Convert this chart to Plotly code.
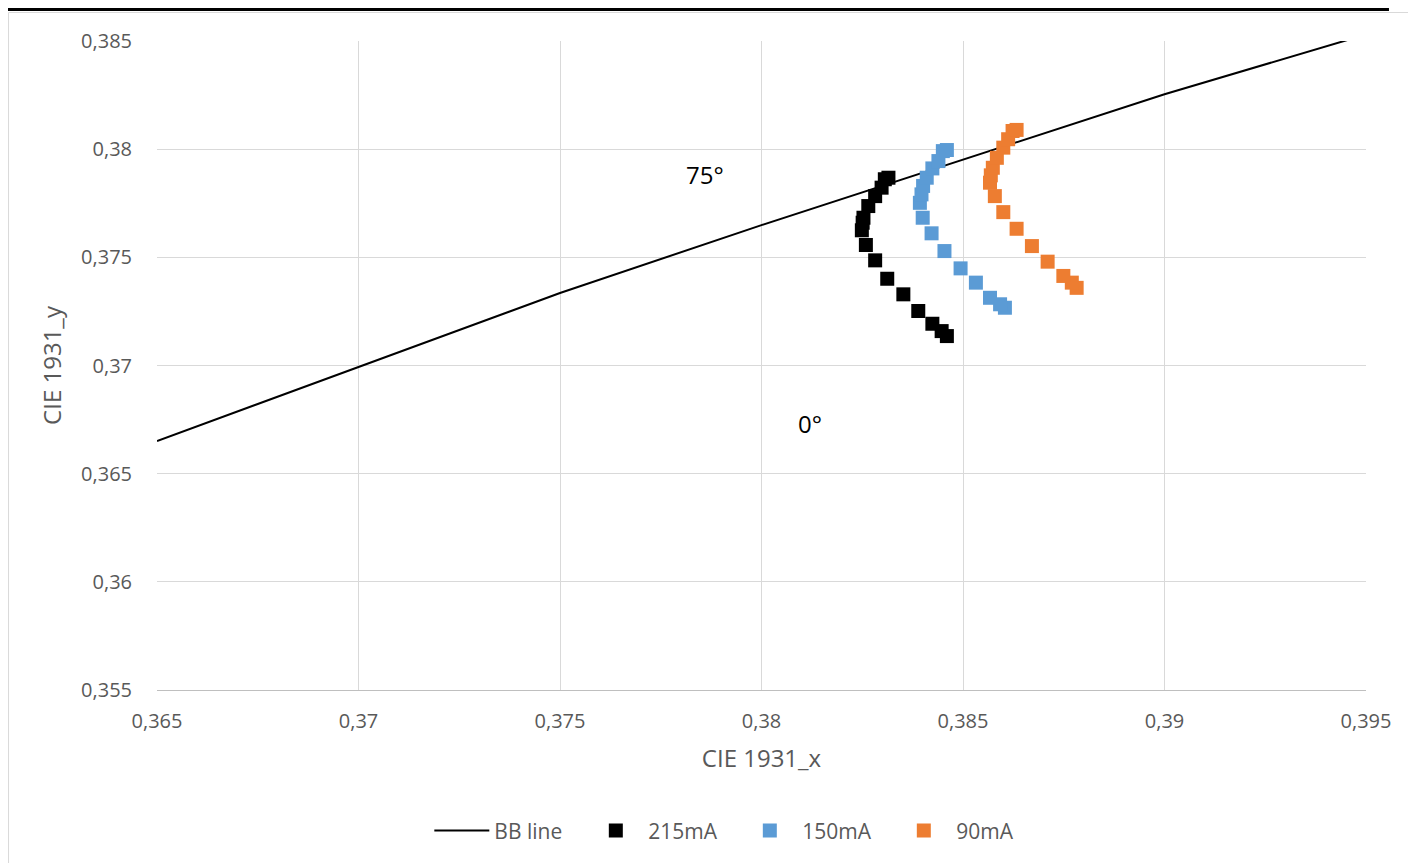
import plotly.graph_objects as go

bb_x = [0.365, 0.370, 0.375, 0.380, 0.385, 0.390, 0.395]
bb_y = [0.36651, 0.36994, 0.37335, 0.37649, 0.37950, 0.38254, 0.38530]

x_215 = [0.38460, 0.38447, 0.38424, 0.38389, 0.38352, 0.38312, 0.38282, 0.38259,
         0.38249, 0.38251, 0.38253, 0.38265, 0.38282, 0.38298, 0.38306, 0.38315]
y_215 = [0.37136, 0.37159, 0.37193, 0.37252, 0.37329, 0.37401, 0.37486, 0.37557,
         0.37625, 0.37660, 0.37683, 0.37737, 0.37783, 0.37822, 0.37861, 0.37868]

x_150 = [0.38604, 0.38592, 0.38567, 0.38532, 0.38494, 0.38454, 0.38422, 0.38400,
         0.38393, 0.38397, 0.38401, 0.38410, 0.38424, 0.38439, 0.38450, 0.38460]
y_150 = [0.37267, 0.37283, 0.37313, 0.37383, 0.37449, 0.37529, 0.37611, 0.37683,
         0.37752, 0.37791, 0.37830, 0.37868, 0.37911, 0.37945, 0.37991, 0.37996]

x_90 = [0.38782, 0.38770, 0.38749, 0.38710, 0.38671, 0.38633, 0.38600, 0.38579,
        0.38567, 0.38569, 0.38574, 0.38584, 0.38600, 0.38612, 0.38623, 0.38633]
y_90 = [0.37359, 0.37383, 0.37414, 0.37480, 0.37552, 0.37632, 0.37709, 0.37783,
        0.37845, 0.37879, 0.37914, 0.37960, 0.38007, 0.38046, 0.38084, 0.38089]

series_names = ["215mA", "150mA", "90mA"]
series_colors = ["#000000", "#5B9BD5", "#ED7D31"]

FONT = "Open Sans"
GREY = "#595959"

fig = go.Figure()
fig.add_trace(go.Scatter(x=bb_x, y=bb_y, mode="lines", name="BB line",
                         line=dict(color="#000000", width=2)))
for xs, ys, nm, col in zip([x_215, x_150, x_90], [y_215, y_150, y_90], series_names, series_colors):
    fig.add_trace(go.Scatter(x=xs, y=ys, mode="markers", name=nm,
                             marker=dict(symbol="square", size=14, color=col,
                                         line=dict(width=0))))

fig.update_layout(
    width=1416, height=863,
    margin=dict(l=149, r=58, t=33, b=181),
    paper_bgcolor="white", plot_bgcolor="white",
    separators=", ",
    font=dict(family=FONT, size=20, color=GREY),
    showlegend=True,
    legend=dict(orientation="h", x=0.480, xanchor="center", y=-0.217, yanchor="middle",
                font=dict(family=FONT, size=21, color=GREY), itemwidth=55,
                entrywidth=84, traceorder="normal"),
    xaxis=dict(range=[0.365, 0.395], dtick=0.005, tick0=0.365,
               showgrid=True, gridcolor="#D9D9D9", gridwidth=1,
               showline=True, linecolor="#BFBFBF", linewidth=1,
               zeroline=False, ticks="outside", ticklen=13, tickcolor="rgba(0,0,0,0)",
               tickfont=dict(family=FONT, size=20, color=GREY),
               title=dict(text="CIE 1931_x", standoff=17,
                          font=dict(family=FONT, size=24, color=GREY))),
    yaxis=dict(range=[0.355, 0.385], dtick=0.005, tick0=0.355,
               showgrid=True, gridcolor="#D9D9D9", gridwidth=1,
               showline=False, zeroline=False,
               ticks="outside", ticklen=20, tickcolor="rgba(0,0,0,0)",
               tickfont=dict(family=FONT, size=20, color=GREY),
               title=dict(text="CIE 1931_y", standoff=12,
                          font=dict(family=FONT, size=24, color=GREY))),
    annotations=[
        dict(x=0.3786, y=0.37882, xref="x", yref="y", text="75°", showarrow=False,
             font=dict(family=FONT, size=24, color="#000000")),
        dict(x=0.3812, y=0.36732, xref="x", yref="y", text="0°", showarrow=False,
             font=dict(family=FONT, size=24, color="#000000")),
    ],
    shapes=[
        dict(type="line", xref="paper", yref="paper", x0=-0.13, x1=1.019,
             y0=1.0485, y1=1.0485, line=dict(color="#000000", width=3)),
        dict(type="line", xref="paper", yref="paper", x0=-0.1228, x1=1.05,
             y0=1.0439, y1=1.0439, line=dict(color="#D9D9D9", width=1)),
        dict(type="line", xref="paper", yref="paper", x0=-0.1228, x1=-0.1228,
             y0=1.0439, y1=-0.3, line=dict(color="#D9D9D9", width=1)),
    ],
)

fig.write_html("out.html")
